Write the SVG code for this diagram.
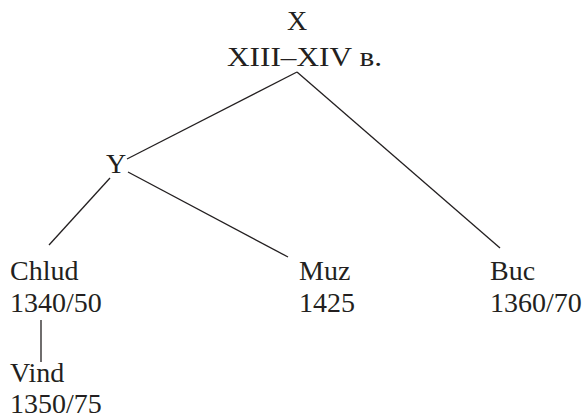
<svg xmlns="http://www.w3.org/2000/svg" width="587" height="420" viewBox="0 0 587 420">
<style>
text{font-family:"Liberation Serif","Times New Roman",serif;font-size:28px;fill:#231f20}
.c line{stroke:#231f20;stroke-width:1.3}
</style>
<rect width="587" height="420" fill="#fff"/>
<g class="c" id="connectors">
<line x1="297" y1="72" x2="127" y2="159"/>
<line x1="297" y1="72" x2="500" y2="248"/>
<line x1="110" y1="178" x2="49" y2="245"/>
<line x1="128" y1="172" x2="288" y2="257"/>
<line x1="41" y1="320" x2="41" y2="362"/>
</g>
<g id="X"><text x="297" y="30" text-anchor="middle">X</text><text x="227" y="66" textLength="155" lengthAdjust="spacingAndGlyphs">XIII–XIV в.</text></g>
<g id="Y"><text x="106" y="173">Y</text></g>
<g id="Chlud"><text x="10" y="280">Chlud</text><text x="10" y="312">1340/50</text></g>
<g id="Muz"><text x="299" y="280">Muz</text><text x="299" y="312">1425</text></g>
<g id="Buc"><text x="490" y="280">Buc</text><text x="490" y="312">1360/70</text></g>
<g id="Vind"><text x="10" y="382">Vind</text><text x="10" y="413">1350/75</text></g>
</svg>
